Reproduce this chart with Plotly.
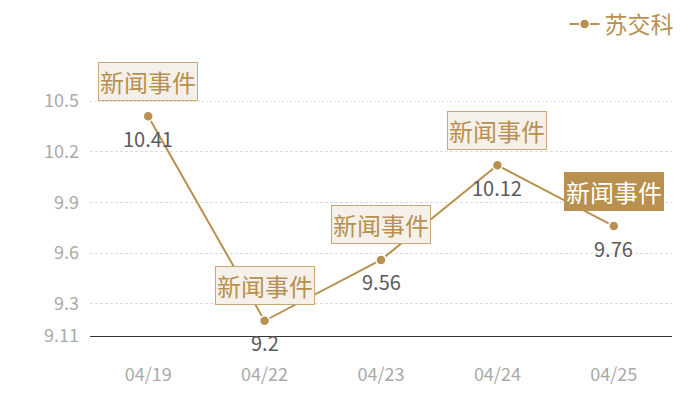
import plotly.graph_objects as go

dates = ["04/19", "04/22", "04/23", "04/24", "04/25"]
prices = [10.41, 9.2, 9.56, 10.12, 9.76]
event_labels = ["新闻事件", "新闻事件", "新闻事件", "新闻事件", "新闻事件"]
highlighted = [False, False, False, False, True]
y_ticks = [9.11, 9.3, 9.6, 9.9, 10.2, 10.5]
series_name = "苏交科"

GOLD = "#b8904f"
FONT = "Noto Sans CJK SC"

fig = go.Figure()

fig.add_trace(go.Scatter(
    x=dates,
    y=prices,
    mode="lines+markers",
    name=series_name,
    line=dict(color=GOLD, width=2),
    marker=dict(size=10, color=GOLD, line=dict(color="white", width=1.5)),
    cliponaxis=False,
))

# value labels below and event boxes above each point
for d, p, label, hl in zip(dates, prices, event_labels, highlighted):
    fig.add_annotation(
        x=d, y=p, text=str(p), showarrow=False, yshift=-22,
        font=dict(family=FONT, size=20, color="#5a5a5a"),
    )
    fig.add_annotation(
        x=d, y=p, text=label, showarrow=False, yshift=35,
        font=dict(family=FONT, size=24, color="white" if hl else GOLD),
        bgcolor=GOLD if hl else "#f5f0ea",
        bordercolor="#c9a878" if not hl else GOLD,
        borderwidth=1, borderpad=1,
    )

# dotted line along the top of the grid
fig.add_hline(y=10.5, line=dict(color="#bbbbbb", width=1, dash="2px,2px"))

# the page body adds an 8px offset, so margins are shifted to compensate
fig.update_layout(
    width=700, height=400,
    margin=dict(l=82, r=36, t=93, b=72),
    plot_bgcolor="white",
    paper_bgcolor="white",
    font=dict(family=FONT),
    showlegend=True,
    legend=dict(
        orientation="h", xref="container", yref="container",
        x=0.958, xanchor="right", y=0.96, yanchor="middle",
        font=dict(family=FONT, size=23, color=GOLD),
        bgcolor="rgba(0,0,0,0)",
    ),
    xaxis=dict(
        type="category",
        range=[-0.5, 4.5],
        showgrid=False,
        showline=True, linecolor="#333333", linewidth=1,
        ticks="",
        tickfont=dict(family=FONT, size=18, color="#aaaaaa"),
        ticklabelstandoff=22,
        automargin=False,
    ),
    yaxis=dict(
        range=[9.11, 10.5],
        tickvals=y_ticks,
        ticktext=[str(t) for t in y_ticks],
        showgrid=True, gridcolor="#dddddd", griddash="3px,2px", gridwidth=1,
        zeroline=False,
        tickfont=dict(family=FONT, size=18, color="#aaaaaa"),
        ticklabelstandoff=10,
        automargin=False,
    ),
)

fig.write_html("out.html")
